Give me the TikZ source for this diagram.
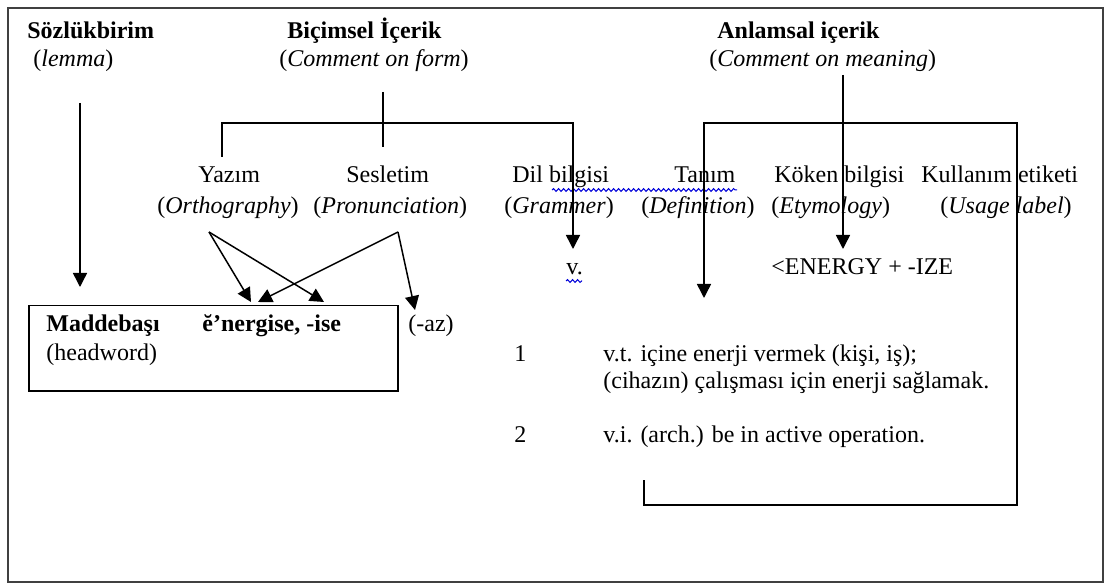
\documentclass[tikz,border=0pt]{standalone}
\usepackage{fontspec}
\setmainfont{Liberation Serif}
\usetikzlibrary{arrows.meta,decorations.pathmorphing}
\begin{document}
\begin{tikzpicture}[x=0.5pt,y=-0.5pt,
  txt/.style={inner sep=0pt, anchor=base west, font=\fontsize{12}{14}\selectfont},
  ttl/.style={txt, font=\fontsize{12}{14}\selectfont\bfseries},
  conn/.style={line width=0.75pt, draw=black},
  arr/.style={conn, -{Triangle[width=7pt,length=7pt]}},
  wavy/.style={draw=blue!85!black, line width=0.5pt, decorate,
    decoration={snake, amplitude=0.7pt, segment length=2.5pt}}]
\useasboundingbox (0,0) rectangle (1105,583);
% outer frame
\draw[line width=1pt, black!75] (8,8) rectangle (1103,582);

% column headings
\node[ttl] (lex) at (27,39) {Sözlükbirim};
\node[txt] (lexen) at (33,67) {(\textit{lemma})};
\node[ttl] (form) at (287,39) {Biçimsel İçerik};
\node[txt] (formen) at (279,67) {(\textit{Comment on form})};
\node[ttl] (mean) at (717,39) {Anlamsal içerik};
\node[txt] (meanen) at (709,67) {(\textit{Comment on meaning})};

% component labels
\node[txt] (orth) at (198,183) {Yazım};
\node[txt] (orthen) at (157,214) {(\textit{Orthography})};
\node[txt] (pron) at (346,183) {Sesletim};
\node[txt] (pronen) at (313,214) {(\textit{Pronunciation})};
\node[txt] (gram) at (512,183) {Dil bilgisi};
\node[txt] (gramen) at (504,214) {(\textit{Grammer})};
\node[txt] (defn) at (674,183) {Tanım};
\node[txt] (defnen) at (641,214) {(\textit{Definition})};
\node[txt] (etym) at (774,183) {Köken bilgisi};
\node[txt] (etymen) at (771,214) {(\textit{Etymology})};
\node[txt] (usage) at (921,183) {Kullanım etiketi};
\node[txt] (usageen) at (940,214) {(\textit{Usage label})};

% entry parts
\node[txt] (pos) at (566,275) {v.};
\node[txt] (ety) at (771,275) {<ENERGY + -IZE};

\node[draw=black, line width=0.75pt, inner sep=0pt, anchor=north west,
  minimum width=184.5pt, minimum height=42.5pt] (hwbox) at (28,305) {};
\node[ttl] (hw) at (46,332) {Maddebaşı};
\node[ttl] (hwform) at (202,332) {ĕ’nergise, -ise};
\node[txt] (hwen) at (46,360) {(headword)};
\node[txt] (az) at (408,332) {(-az)};

\node[txt] (s1) at (514,362) {1};
\node[txt] (s1a) at (603,362) {v.t. içine enerji vermek (kişi, iş);};
\node[txt] (s1b) at (603,388) {(cihazın) çalışması için enerji sağlamak.};
\node[txt] (s2) at (514,443) {2};
\node[txt] (s2a) at (603,443) {v.i. (arch.) be in active operation.};

% spelling marks
\draw[wavy] (552,190) -- (737,190);
\draw[wavy] (566,281) -- (582,281);

% lemma arrow
\coordinate (lemT) at (80,103);
\coordinate (lemH) at (80,287);
\draw[arr] (lemT) -- (lemH);

% form bracket
\coordinate (fT) at (383,92);
\coordinate (fB) at (383,147);
\coordinate (fbar) at (0,123);
\coordinate (fL) at (222,157);
\coordinate (fR) at (573,249);
\draw[conn] (fT) -- (fB);
\draw[arr] (fL) -- (fL |- fbar) -- (fR |- fbar) -- (fR);

% meaning bracket
\coordinate (mT) at (843,75);
\coordinate (mH) at (843,249);
\draw[arr] (mT) -- (mH);
\coordinate (mTick) at (644,480);
\coordinate (mBot) at (0,505);
\coordinate (mRight) at (1017,0);
\coordinate (mL) at (704,298);
\draw[arr] (mTick) -- (mTick |- mBot) -- (mRight |- mBot) -- (mRight |- fbar)
  -- (mL |- fbar) -- (mL);

% orthography and pronunciation arrows
\coordinate (oS) at (209,232);
\coordinate (pS) at (398,232);
\coordinate (hA) at (251,302);
\coordinate (hB) at (324,302);
\coordinate (hC) at (258,302);
\coordinate (azH) at (415,310);
\draw[arr] (oS) -- (hA);
\draw[arr] (oS) -- (hB);
\draw[arr] (pS) -- (hC);
\draw[arr] (pS) -- (azH);
\end{tikzpicture}
\end{document}
